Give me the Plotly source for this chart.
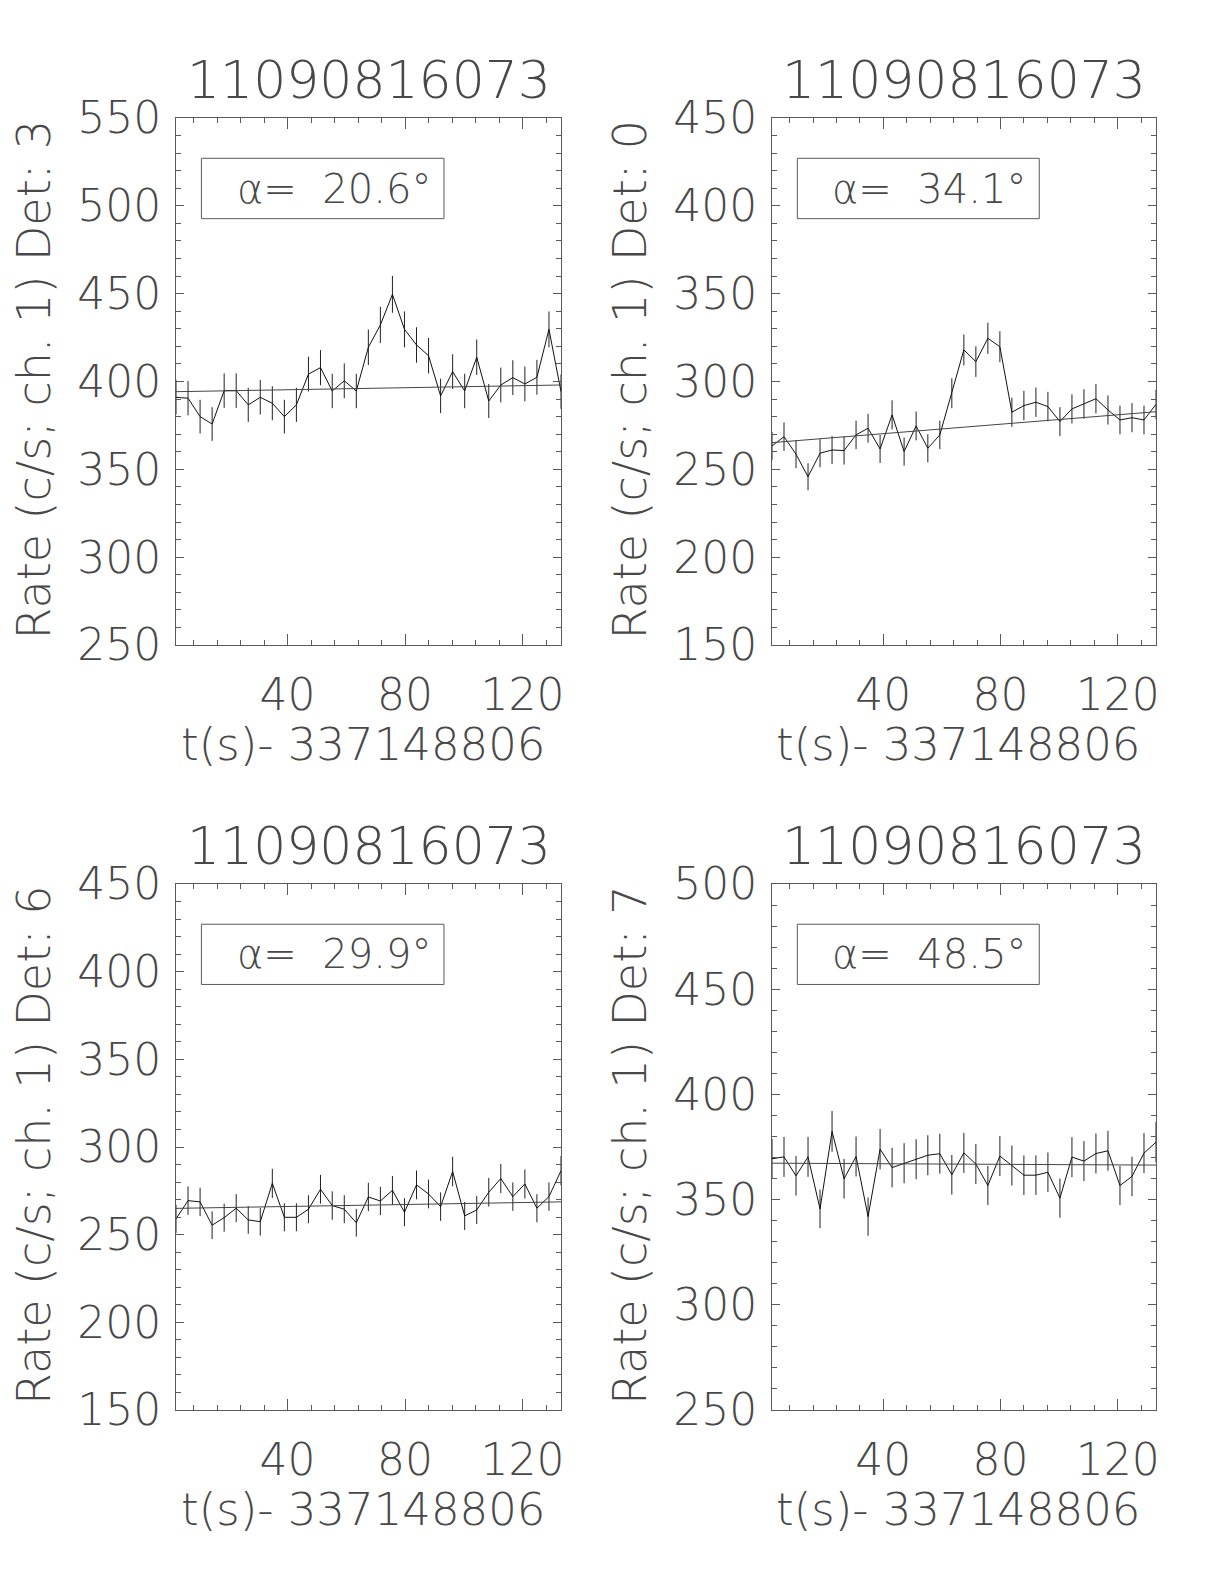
import plotly.graph_objects as go

# page body has an 8 px margin; the figure fills the rest of the window
OFF = 8
W, H = 1224 - 2 * OFF, 1584 - 2 * OFF

# time bins (s) after 337148806
t = [2.0, 6.1, 10.2, 14.3, 18.4, 22.5, 26.6, 30.7, 34.8, 38.9, 43.0,
     47.1, 51.2, 55.2, 59.3, 63.4, 67.5, 71.6, 75.7, 79.8, 83.9, 88.0,
     92.1, 96.2, 100.3, 104.4, 108.5, 112.6, 116.7, 120.8, 124.9, 129.0,
     133.1]

burst = "11090816073"
t_label = "t(s)- 337148806"
dets = ["3", "0", "6", "7"]
alphas = ["20.6", "34.1", "29.9", "48.5"]
y_ranges = [(250, 550), (150, 450), (150, 450), (250, 500)]

rate_det3 = [391.0, 390.5, 380.0, 375.8, 394.8, 394.8, 386.7, 391.0, 387.6,
             380.0, 386.7, 404.2, 407.9, 394.6, 400.4, 394.6, 419.5, 432.2,
             449.6, 429.7, 420.8, 414.7, 391.8, 405.6, 394.6, 413.8, 388.9,
             398.0, 402.2, 398.6, 402.4, 429.7, 394.2]
err_det3 = [9.8, 9.8, 9.6, 9.6, 9.8, 9.8, 9.7, 9.8, 9.7, 9.6, 9.7, 9.9, 10.0,
            9.8, 9.9, 9.8, 10.1, 10.3, 10.5, 10.2, 10.1, 10.1, 9.8, 9.9, 9.8,
            10.1, 9.7, 9.9, 9.9, 9.9, 9.9, 10.2, 9.8]
fit_det3 = [394.2, 398.0]

rate_det0 = [263.3, 268.6, 258.6, 245.8, 259.2, 261.0, 260.7, 269.6, 273.4,
             261.6, 281.0, 260.1, 274.7, 262.0, 269.6, 293.3, 318.0, 311.3,
             324.6, 319.8, 282.5, 286.3, 288.2, 285.7, 277.2, 284.4, 287.2,
             290.2, 283.8, 278.1, 279.4, 278.1, 287.0]
err_det0 = [8.0, 8.1, 7.9, 7.7, 8.0, 8.0, 8.0, 8.1, 8.2, 8.0, 8.3, 8.0, 8.2,
            8.0, 8.1, 8.5, 8.8, 8.7, 8.9, 8.8, 8.3, 8.4, 8.4, 8.4, 8.2, 8.3,
            8.4, 8.4, 8.3, 8.2, 8.3, 8.2, 8.4]
fit_det0 = [265.2, 282.8]

rate_det6 = [259.0, 269.4, 268.7, 255.4, 259.7, 265.1, 258.4, 257.4, 279.3,
             259.9, 259.9, 264.5, 275.9, 266.6, 264.5, 256.8, 271.5, 269.2,
             275.3, 262.8, 278.4, 273.2, 266.0, 286.0, 260.7, 264.1, 274.2,
             282.0, 271.7, 278.9, 265.1, 271.7, 286.5]
err_det6 = [8.0, 8.1, 8.1, 7.9, 8.0, 8.0, 7.9, 7.9, 8.3, 8.0, 8.0, 8.0, 8.2,
            8.1, 8.0, 7.9, 8.1, 8.1, 8.2, 8.0, 8.2, 8.2, 8.1, 8.4, 8.0, 8.0,
            8.2, 8.3, 8.1, 8.3, 8.0, 8.1, 8.4]
fit_det6 = [265.0, 268.7]

rate_det7 = [369.4, 370.3, 361.3, 370.3, 345.6, 382.4, 359.9, 370.5, 341.9,
             374.0, 365.2, 367.3, 369.2, 371.1, 371.8, 361.8, 372.2, 366.9,
             356.7, 370.7, 366.2, 361.6, 361.6, 363.0, 350.7, 370.2, 368.3,
             371.9, 373.2, 356.7, 361.0, 372.1, 377.3]
err_det7 = [9.5, 9.5, 9.4, 9.5, 9.2, 9.7, 9.4, 9.5, 9.1, 9.6, 9.4, 9.5, 9.5,
            9.5, 9.5, 9.4, 9.5, 9.5, 9.3, 9.5, 9.5, 9.4, 9.4, 9.4, 9.3, 9.5,
            9.5, 9.5, 9.5, 9.3, 9.4, 9.5, 9.6]
fit_det7 = [367.3, 366.4]

rates = [rate_det3, rate_det0, rate_det6, rate_det7]
errs = [err_det3, err_det0, err_det6, err_det7]
fits = [fit_det3, fit_det0, fit_det6, fit_det7]

# panel boxes in window pixels: left, top, right, bottom
boxes = [(176, 118, 561, 645), (772, 118, 1156, 645),
         (176, 884, 561, 1410), (772, 884, 1156, 1410)]


def px(x):
    return (x - OFF) / W


def py(y):
    return 1 - (y - OFF) / H


FONT = "DejaVu Sans"
TXT = "#484848"
AX = "#5a5a5a"

fig = go.Figure()
layout = {}
annotations = []
shapes = []

for k in range(4):
    n = "" if k == 0 else str(k + 1)
    xa, ya = "x" + n, "y" + n
    l, tp, r, b = boxes[k]

    fig.add_trace(go.Scatter(
        x=t, y=rates[k], mode="lines", xaxis=xa, yaxis=ya,
        line=dict(color="#111111", width=1),
        error_y=dict(type="data", array=errs[k], width=0,
                     color="#222222", thickness=1),
        showlegend=False,
    ))
    fig.add_trace(go.Scatter(
        x=[t[0], t[-1]], y=fits[k], mode="lines", xaxis=xa, yaxis=ya,
        line=dict(color="#444444", width=1), showlegend=False,
    ))

    layout["xaxis" + n] = dict(
        domain=[px(l), px(r)], anchor=ya, range=[t[0], t[-1]],
        automargin=False,
        tick0=0, dtick=40, ticks="inside", ticklen=11, tickwidth=1,
        tickcolor=AX, mirror="ticks", showline=True, linecolor=AX,
        linewidth=1, showgrid=False, zeroline=False,
        minor=dict(ticks="inside", dtick=8, tick0=0, ticklen=5,
                   tickcolor=AX, showgrid=False),
        tickfont=dict(family=FONT, size=44, color=TXT, weight=200),
        ticklabelstandoff=11,
    )
    y0, y1 = y_ranges[k]
    layout["yaxis" + n] = dict(
        domain=[py(b), py(tp)], anchor=xa, range=[y0, y1], automargin=False,
        tick0=0, dtick=50, ticks="inside", ticklen=8, tickwidth=1,
        tickcolor=AX, mirror="ticks", showline=True, linecolor=AX,
        linewidth=1, showgrid=False, zeroline=False,
        minor=dict(ticks="inside", dtick=10, tick0=0, ticklen=5,
                   tickcolor=AX, showgrid=False),
        tickfont=dict(family=FONT, size=44, color=TXT, weight=200),
        ticklabelstandoff=5,
    )

    cx = (l + r) / 2
    # panel title
    annotations.append(dict(
        text=burst, xref="paper", yref="paper", x=px(cx), y=py(tp - 38),
        xanchor="center", yanchor="middle", showarrow=False,
        font=dict(family=FONT, size=52, color=TXT, weight=200),
    ))
    # x title
    annotations.append(dict(
        text=t_label, xref="paper", yref="paper", x=px(cx - 6),
        y=py(b + 99), xanchor="center", yanchor="middle",
        showarrow=False,
        font=dict(family=FONT, size=45, color=TXT, weight=200),
    ))
    # y title
    annotations.append(dict(
        text="Rate (c/s; ch. 1) Det: " + dets[k], xref="paper", yref="paper",
        x=px(l - 142), y=py((tp + b) / 2 - 2), textangle=-90,
        xanchor="center", yanchor="middle", showarrow=False,
        font=dict(family=FONT, size=46, color=TXT, weight=200),
    ))
    # alpha box
    shapes.append(dict(
        type="rect", xref=xa + " domain", yref=ya + " domain",
        x0=0.066, x1=0.696, y0=0.809, y1=0.9235,
        line=dict(color=AX, width=1),
    ))
    annotations.append(dict(
        text="α=  " + alphas[k] + "°", xref=xa + " domain",
        yref=ya + " domain", x=0.41, y=0.866, xanchor="center",
        yanchor="middle", showarrow=False,
        font=dict(family=FONT, size=40, color=TXT, weight=200),
    ))

fig.update_layout(
    **layout,
    annotations=annotations,
    shapes=shapes,
    width=W, height=H,
    margin=dict(l=0, r=0, t=0, b=0),
    paper_bgcolor="#ffffff",
    plot_bgcolor="#ffffff",
    showlegend=False,
)

fig.write_html("out.html")
